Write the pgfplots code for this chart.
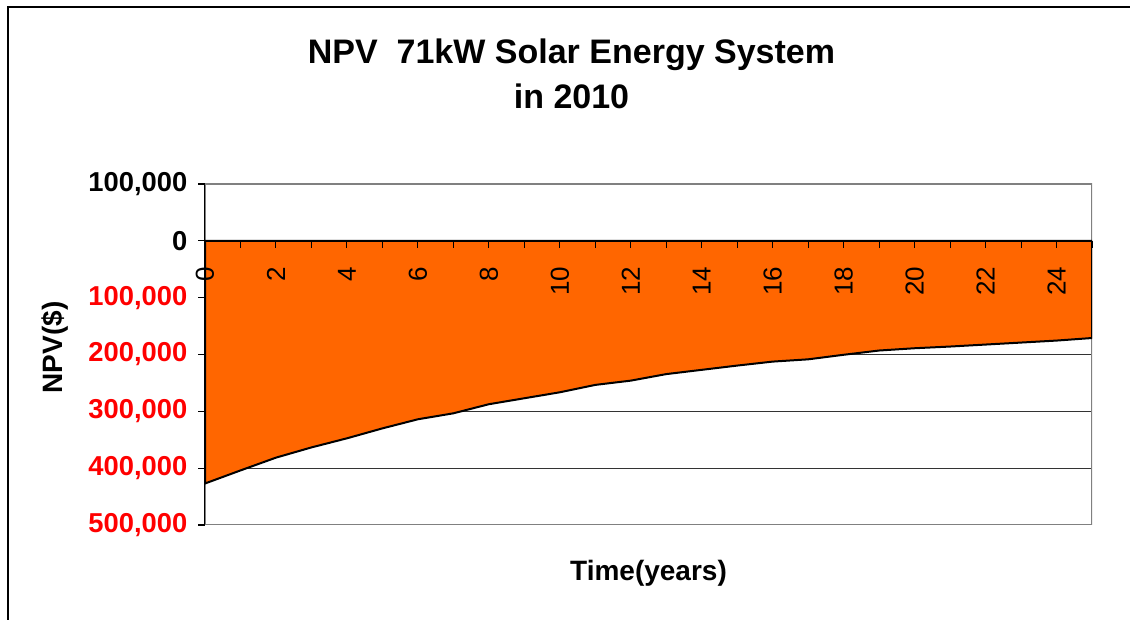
\documentclass[border=0pt]{standalone}
\usepackage{pgfplots}
\pgfplotsset{compat=1.18}
\usepackage{fontspec}
\setmainfont{Liberation Sans}
\definecolor{npvorange}{HTML}{FF6600}
\definecolor{frame}{HTML}{808080}
\pgfplotsset{common/.style={
  at={(153.75pt,71.25pt)}, anchor=south west,
  scale only axis, width=665.25pt, height=255.75pt,
  xmin=0, xmax=25, ymin=-500000, ymax=100000,
  tick align=outside,
  major tick length=5.25pt, minor tick length=5.25pt,
  tick style={black, line width=0.8pt},
  scaled y ticks=false,
  /pgf/number format/assume math mode=true}}
\begin{document}
\begin{tikzpicture}[x=1pt,y=1pt]
\useasboundingbox (0,0) rectangle (847.5,465);
\draw[line width=1.5pt] (6,0) -- (6,459.75) -- (847.5,459.75);
\begin{axis}[
  common,
  axis x line=none, axis y line*=left,
  axis line style={black, line width=1.2pt},
  ytick={-500000,-400000,-300000,-200000,-100000,0,100000},
  yticklabels={{\textcolor{red}{500,000}},{\textcolor{red}{400,000}},{\textcolor{red}{300,000}},{\textcolor{red}{200,000}},{\textcolor{red}{100,000}},{0},{100,000}},
  yticklabel style={font=\fontsize{20.5}{21}\selectfont\bfseries, xshift=-4.5pt},
  ymajorgrids, grid style={black!80, line width=0.75pt},
  ylabel={NPV(\$)},
  every axis y label/.style={at={(axis description cs:-0.1691,0.5205)}, anchor=center, rotate=90, font=\fontsize{21}{24}\selectfont\bfseries},
  title={NPV\ \ 71kW Solar Energy System\\in 2010},
  title style={at={(axis description cs:0.4132,1.2991)}, anchor=center, align=center, font=\fontsize{25.5}{33.75}\selectfont\bfseries},
]
\draw[frame, line width=1.5pt] (rel axis cs:0,0) rectangle (rel axis cs:1,1);
\addplot[fill=npvorange, draw=black, line width=1.5pt] coordinates {
(0,-427000) (1,-404000) (2,-381500) (3,-363500) (4,-347500) (5,-330000)
(6,-314000) (7,-303500) (8,-287500) (9,-277000) (10,-266500) (11,-253500)
(12,-246000) (13,-234500) (14,-227000) (15,-219500) (16,-212500) (17,-208500)
(18,-200500) (19,-193000) (20,-189000) (21,-186000) (22,-182500) (23,-179000)
(24,-175500) (25,-171000)
} \closedcycle;
\end{axis}
\begin{axis}[
  common,
  axis x line*=middle, axis y line=none,
  axis line style={black, line width=1.5pt},
  xtick={0,2,...,24}, minor xtick={1,3,...,25},
  xticklabel style={rotate=90, anchor=east, inner xsep=14pt, font=\fontsize{19.5}{20}\selectfont},
  xlabel={Time(years)},
  every axis x label/.style={at={(axis description cs:0.5,-0.1408)}, anchor=center, font=\fontsize{21}{24}\selectfont\bfseries},
]
\end{axis}
\end{tikzpicture}
\end{document}
